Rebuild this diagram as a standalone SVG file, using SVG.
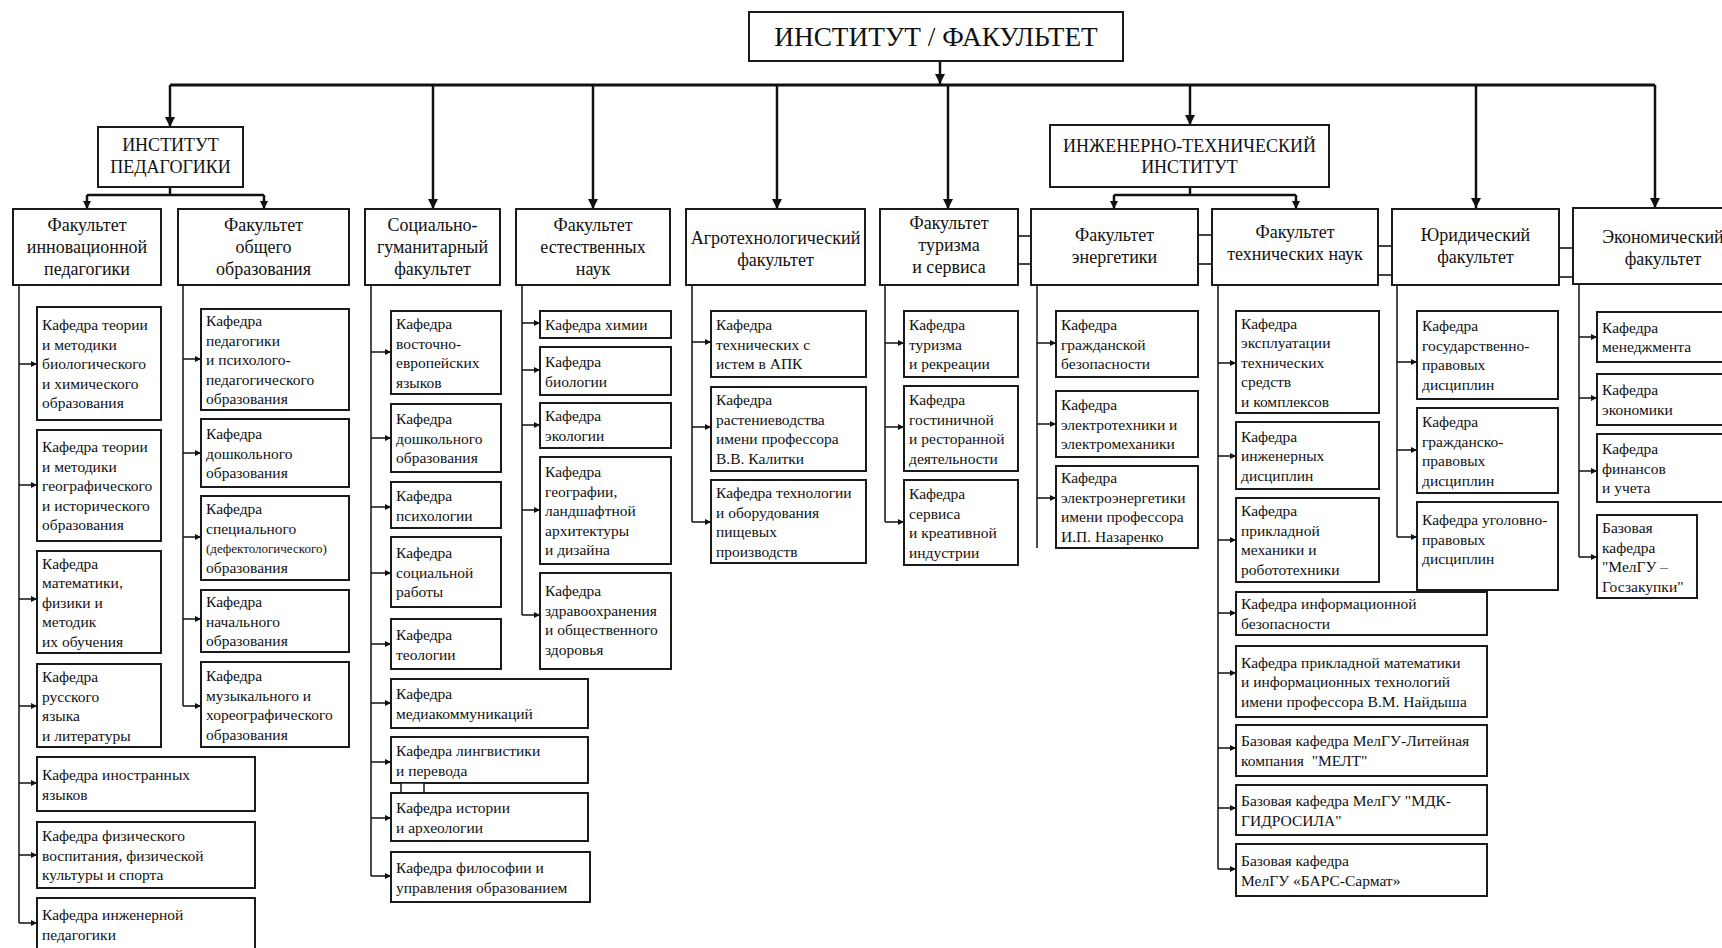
<svg xmlns="http://www.w3.org/2000/svg" width="1722" height="948" viewBox="0 0 1722 948">
<style>
.bg{fill:#fff}
.box{fill:#fff;stroke:#1a1a1a;stroke-width:2}
.t{font-family:"Liberation Serif","Times New Roman",serif;fill:#111}
.k{font-size:15.5px}
.s{font-size:13px}
.f{font-size:18px;text-anchor:middle}
.top{font-size:27.3px;text-anchor:middle}
.bus{stroke:#111;stroke-width:3;fill:none}
.drop{stroke:#111;stroke-width:2.5;fill:none}
.ln{stroke:#111;stroke-width:1.5;fill:none}
.lnk{stroke:#444;stroke-width:2;fill:none}
</style>
<defs>
<marker id="big" viewBox="0 0 10 10" refX="10" refY="5" markerWidth="10" markerHeight="10" markerUnits="userSpaceOnUse" orient="auto"><path d="M0,0 L10,5 L0,10 z" fill="#111"/></marker>
<marker id="mid" viewBox="0 0 10 10" refX="10" refY="5" markerWidth="8" markerHeight="8" markerUnits="userSpaceOnUse" orient="auto"><path d="M0,0 L10,5 L0,10 z" fill="#111"/></marker>
<marker id="sm" viewBox="0 0 10 10" refX="10" refY="5" markerWidth="6" markerHeight="6" markerUnits="userSpaceOnUse" orient="auto"><path d="M0,0 L10,5 L0,10 z" fill="#111"/></marker>
</defs>
<rect class="bg" x="0" y="0" width="1722" height="948"/>

<g id="connectors">
<line class="drop" x1="940" y1="61" x2="940" y2="84" marker-end="url(#big)"/>
<line class="bus" x1="170" y1="85" x2="1655" y2="85"/>
<line class="drop" x1="170" y1="85" x2="170" y2="127" marker-end="url(#big)"/>
<line class="drop" x1="433" y1="85" x2="433" y2="209" marker-end="url(#big)"/>
<line class="drop" x1="593" y1="85" x2="593" y2="209" marker-end="url(#big)"/>
<line class="drop" x1="777" y1="85" x2="777" y2="209" marker-end="url(#big)"/>
<line class="drop" x1="948" y1="85" x2="948" y2="209" marker-end="url(#big)"/>
<line class="drop" x1="1190" y1="85" x2="1190" y2="125" marker-end="url(#big)"/>
<line class="drop" x1="1476" y1="85" x2="1476" y2="208" marker-end="url(#big)"/>
<line class="drop" x1="1655" y1="85" x2="1655" y2="208" marker-end="url(#big)"/>
<path class="drop" d="M170,187 V195 M87,195 H264"/>
<line class="drop" x1="87" y1="195" x2="87" y2="209" marker-end="url(#mid)"/>
<line class="drop" x1="264" y1="195" x2="264" y2="209" marker-end="url(#mid)"/>
<path class="drop" d="M1190,187 V195 M1114,195 H1296"/>
<line class="drop" x1="1114" y1="195" x2="1114" y2="209" marker-end="url(#mid)"/>
<line class="drop" x1="1296" y1="195" x2="1296" y2="209" marker-end="url(#mid)"/>
<path class="lnk" d="M1018,236 H1031 M1018,264 H1031 M1198,235 H1212 M1198,264 H1212 M1378,246 H1392 M1378,275 H1392 M1559,248 H1573 M1559,277 H1573"/>
<path class="ln" d="M19,285 V923 M183,285 V706 M371,285 V876 M522,285 V615 M692,285 V522 M885,285 V522 M1037,285 V548 M1218,285 V869 M1397,285 V537 M1579,285 V557"/>
<g marker-end="url(#sm)" class="ln">
<line x1="19" y1="364" x2="37" y2="364"/><line x1="19" y1="485" x2="37" y2="485"/><line x1="19" y1="599" x2="37" y2="599"/><line x1="19" y1="706" x2="37" y2="706"/><line x1="19" y1="783" x2="37" y2="783"/><line x1="19" y1="855" x2="37" y2="855"/><line x1="19" y1="923" x2="37" y2="923"/>
<line x1="183" y1="359" x2="201" y2="359"/><line x1="183" y1="453" x2="201" y2="453"/><line x1="183" y1="537" x2="201" y2="537"/><line x1="183" y1="619" x2="201" y2="619"/><line x1="183" y1="706" x2="201" y2="706"/>
<line x1="371" y1="352" x2="391" y2="352"/><line x1="371" y1="438" x2="391" y2="438"/><line x1="371" y1="507" x2="391" y2="507"/><line x1="371" y1="573" x2="391" y2="573"/><line x1="371" y1="644" x2="391" y2="644"/><line x1="371" y1="703" x2="391" y2="703"/><line x1="371" y1="762" x2="391" y2="762"/><line x1="371" y1="818" x2="391" y2="818"/><line x1="371" y1="876" x2="391" y2="876"/>
<line x1="522" y1="323" x2="540" y2="323"/><line x1="522" y1="370" x2="540" y2="370"/><line x1="522" y1="425" x2="540" y2="425"/><line x1="522" y1="510" x2="540" y2="510"/><line x1="522" y1="615" x2="540" y2="615"/>
<line x1="692" y1="342" x2="711" y2="342"/><line x1="692" y1="427" x2="711" y2="427"/><line x1="692" y1="522" x2="711" y2="522"/>
<line x1="885" y1="343" x2="904" y2="343"/><line x1="885" y1="427" x2="904" y2="427"/><line x1="885" y1="522" x2="904" y2="522"/>
<line x1="1037" y1="343" x2="1056" y2="343"/><line x1="1037" y1="424" x2="1056" y2="424"/><line x1="1037" y1="498" x2="1056" y2="498"/>
<line x1="1218" y1="363" x2="1236" y2="363"/><line x1="1218" y1="456" x2="1236" y2="456"/><line x1="1218" y1="540" x2="1236" y2="540"/><line x1="1218" y1="613" x2="1236" y2="613"/><line x1="1218" y1="673" x2="1236" y2="673"/><line x1="1218" y1="748" x2="1236" y2="748"/><line x1="1218" y1="808" x2="1236" y2="808"/><line x1="1218" y1="869" x2="1236" y2="869"/>
<line x1="1397" y1="362" x2="1417" y2="362"/><line x1="1397" y1="450" x2="1417" y2="450"/><line x1="1397" y1="537" x2="1417" y2="537"/>
<line x1="1579" y1="337" x2="1597" y2="337"/><line x1="1579" y1="398" x2="1597" y2="398"/><line x1="1579" y1="471" x2="1597" y2="471"/><line x1="1579" y1="557" x2="1597" y2="557"/>
</g>
</g>

<g id="root"><rect class="box" x="749" y="12" width="374" height="49"/><text class="t top" x="936" y="46">ИНСТИТУТ / ФАКУЛЬТЕТ</text></g>
<g id="inst-ped"><rect class="box" x="98" y="127" width="145" height="60"/><text class="t f" x="170.5" y="151">ИНСТИТУТ<tspan x="170.5" dy="22">ПЕДАГОГИКИ</tspan></text></g>
<g id="inst-eng"><rect class="box" x="1050" y="125" width="279" height="62"/><text class="t f" x="1189.5" y="152">ИНЖЕНЕРНО-ТЕХНИЧЕСКИЙ<tspan x="1189.5" dy="21">ИНСТИТУТ</tspan></text></g>

<g id="fac-innov"><rect class="box" x="13" y="209" width="148" height="76"/><text class="t f" x="87" y="231">Факультет<tspan x="87" dy="22">инновационной</tspan><tspan x="87" dy="22">педагогики</tspan></text></g>
<g id="fac-general"><rect class="box" x="178" y="209" width="171" height="76"/><text class="t f" x="263.5" y="231">Факультет<tspan x="263.5" dy="22">общего</tspan><tspan x="263.5" dy="22">образования</tspan></text></g>
<g id="fac-social"><rect class="box" x="365" y="209" width="135" height="76"/><text class="t f" x="432.5" y="231">Социально-<tspan x="432.5" dy="22">гуманитарный</tspan><tspan x="432.5" dy="22">факультет</tspan></text></g>
<g id="fac-natural"><rect class="box" x="516" y="209" width="154" height="76"/><text class="t f" x="593" y="231">Факультет<tspan x="593" dy="22">естественных</tspan><tspan x="593" dy="22">наук</tspan></text></g>
<g id="fac-agro"><rect class="box" x="686" y="209" width="179" height="76"/><text class="t f" x="775.5" y="244">Агротехнологический<tspan x="775.5" dy="22">факультет</tspan></text></g>
<g id="fac-tourism"><rect class="box" x="880" y="209" width="138" height="76"/><text class="t f" x="949" y="229">Факультет<tspan x="949" dy="22">туризма</tspan><tspan x="949" dy="22">и сервиса</tspan></text></g>
<g id="fac-energy"><rect class="box" x="1031" y="209" width="167" height="76"/><text class="t f" x="1114.5" y="241">Факультет<tspan x="1114.5" dy="22">энергетики</tspan></text></g>
<g id="fac-tech"><rect class="box" x="1212" y="209" width="166" height="76"/><text class="t f" x="1295" y="238">Факультет<tspan x="1295" dy="22">технических наук</tspan></text></g>
<g id="fac-law"><rect class="box" x="1392" y="209" width="167" height="76"/><text class="t f" x="1475.5" y="241">Юридический<tspan x="1475.5" dy="22">факультет</tspan></text></g>
<g id="fac-econ"><rect class="box" x="1573" y="208" width="170" height="76"/><text class="t f" x="1663" y="243">Экономический<tspan x="1663" dy="22">факультет</tspan></text></g>

<g id="a1"><rect class="box" x="37" y="307" width="124" height="113"/><text class="t k" x="42" y="330">Кафедра теории<tspan x="42" dy="19.5">и методики</tspan><tspan x="42" dy="19.5">биологического</tspan><tspan x="42" dy="19.5">и химического</tspan><tspan x="42" dy="19.5">образования</tspan></text></g>
<g id="a2"><rect class="box" x="37" y="430" width="124" height="111"/><text class="t k" x="42" y="452">Кафедра теории<tspan x="42" dy="19.5">и методики</tspan><tspan x="42" dy="19.5">географического</tspan><tspan x="42" dy="19.5">и исторического</tspan><tspan x="42" dy="19.5">образования</tspan></text></g>
<g id="a3"><rect class="box" x="37" y="551" width="124" height="102"/><text class="t k" x="42" y="568.5">Кафедра<tspan x="42" dy="19.5">математики,</tspan><tspan x="42" dy="19.5">физики и</tspan><tspan x="42" dy="19.5">методик</tspan><tspan x="42" dy="19.5">их обучения</tspan></text></g>
<g id="a4"><rect class="box" x="37" y="664" width="124" height="83"/><text class="t k" x="42" y="682">Кафедра<tspan x="42" dy="19.5">русского</tspan><tspan x="42" dy="19.5">языка</tspan><tspan x="42" dy="19.5">и литературы</tspan></text></g>
<g id="a5"><rect class="box" x="37" y="757" width="218" height="54"/><text class="t k" x="42" y="780">Кафедра иностранных<tspan x="42" dy="19.5">языков</tspan></text></g>
<g id="a6"><rect class="box" x="37" y="822" width="218" height="66"/><text class="t k" x="42" y="841">Кафедра физического<tspan x="42" dy="19.5">воспитания, физической</tspan><tspan x="42" dy="19.5">культуры и спорта</tspan></text></g>
<g id="a7"><rect class="box" x="37" y="898" width="218" height="62"/><text class="t k" x="42" y="920">Кафедра инженерной<tspan x="42" dy="19.5">педагогики</tspan></text></g>

<g id="b1"><rect class="box" x="201" y="309" width="148" height="101"/><text class="t k" x="206" y="326">Кафедра<tspan x="206" dy="19.5">педагогики</tspan><tspan x="206" dy="19.5">и психолого-</tspan><tspan x="206" dy="19.5">педагогического</tspan><tspan x="206" dy="19.5">образования</tspan></text></g>
<g id="b2"><rect class="box" x="201" y="419" width="148" height="68"/><text class="t k" x="206" y="439">Кафедра<tspan x="206" dy="19.5">дошкольного</tspan><tspan x="206" dy="19.5">образования</tspan></text></g>
<g id="b3"><rect class="box" x="201" y="496" width="148" height="84"/><text class="t k" x="206" y="514">Кафедра<tspan x="206" dy="19.5">специального</tspan><tspan x="206" dy="19.5" class="s">(дефектологического)</tspan><tspan x="206" dy="19.5">образования</tspan></text></g>
<g id="b4"><rect class="box" x="201" y="590" width="148" height="62"/><text class="t k" x="206" y="607">Кафедра<tspan x="206" dy="19.5">начального</tspan><tspan x="206" dy="19.5">образования</tspan></text></g>
<g id="b5"><rect class="box" x="201" y="662" width="148" height="85"/><text class="t k" x="206" y="681">Кафедра<tspan x="206" dy="19.5">музыкального и</tspan><tspan x="206" dy="19.5">хореографического</tspan><tspan x="206" dy="19.5">образования</tspan></text></g>

<g id="c1"><rect class="box" x="391" y="311" width="110" height="83"/><text class="t k" x="396" y="329">Кафедра<tspan x="396" dy="19.5">восточно-</tspan><tspan x="396" dy="19.5">европейских</tspan><tspan x="396" dy="19.5">языков</tspan></text></g>
<g id="c2"><rect class="box" x="391" y="404" width="110" height="68"/><text class="t k" x="396" y="424">Кафедра<tspan x="396" dy="19.5">дошкольного</tspan><tspan x="396" dy="19.5">образования</tspan></text></g>
<g id="c3"><rect class="box" x="391" y="482" width="110" height="46"/><text class="t k" x="396" y="501">Кафедра<tspan x="396" dy="19.5">психологии</tspan></text></g>
<g id="c4"><rect class="box" x="391" y="537" width="110" height="70"/><text class="t k" x="396" y="558">Кафедра<tspan x="396" dy="19.5">социальной</tspan><tspan x="396" dy="19.5">работы</tspan></text></g>
<g id="c5"><rect class="box" x="391" y="619" width="110" height="50"/><text class="t k" x="396" y="640">Кафедра<tspan x="396" dy="19.5">теологии</tspan></text></g>
<g id="c6"><rect class="box" x="391" y="679" width="197" height="49"/><text class="t k" x="396" y="699">Кафедра<tspan x="396" dy="19.5">медиакоммуникаций</tspan></text></g>
<g id="c7"><rect class="box" x="391" y="737" width="197" height="46"/><text class="t k" x="396" y="756">Кафедра лингвистики<tspan x="396" dy="19.5">и перевода</tspan></text></g>
<g id="c-small"><rect class="box" x="401" y="783" width="23" height="10" style="stroke-width:1.5"/></g>
<g id="c8"><rect class="box" x="391" y="793" width="197" height="48"/><text class="t k" x="396" y="813">Кафедра истории<tspan x="396" dy="19.5">и археологии</tspan></text></g>
<g id="c9"><rect class="box" x="391" y="852" width="199" height="50"/><text class="t k" x="396" y="873">Кафедра философии и<tspan x="396" dy="19.5">управления образованием</tspan></text></g>

<g id="d1"><rect class="box" x="540" y="311" width="131" height="27"/><text class="t k" x="545" y="330">Кафедра химии</text></g>
<g id="d2"><rect class="box" x="540" y="347" width="131" height="48"/><text class="t k" x="545" y="367">Кафедра<tspan x="545" dy="19.5">биологии</tspan></text></g>
<g id="d3"><rect class="box" x="540" y="403" width="131" height="45"/><text class="t k" x="545" y="421">Кафедра<tspan x="545" dy="19.5">экологии</tspan></text></g>
<g id="d4"><rect class="box" x="540" y="457" width="131" height="107"/><text class="t k" x="545" y="477">Кафедра<tspan x="545" dy="19.5">географии,</tspan><tspan x="545" dy="19.5">ландшафтной</tspan><tspan x="545" dy="19.5">архитектуры</tspan><tspan x="545" dy="19.5">и дизайна</tspan></text></g>
<g id="d5"><rect class="box" x="540" y="573" width="131" height="96"/><text class="t k" x="545" y="596">Кафедра<tspan x="545" dy="19.5">здравоохранения</tspan><tspan x="545" dy="19.5">и общественного</tspan><tspan x="545" dy="19.5">здоровья</tspan></text></g>

<g id="e1"><rect class="box" x="711" y="311" width="155" height="66"/><text class="t k" x="716" y="330">Кафедра<tspan x="716" dy="19.5">технических с</tspan><tspan x="716" dy="19.5">истем в АПК</tspan></text></g>
<g id="e2"><rect class="box" x="711" y="387" width="155" height="84"/><text class="t k" x="716" y="405">Кафедра<tspan x="716" dy="19.5">растениеводства</tspan><tspan x="716" dy="19.5">имени профессора</tspan><tspan x="716" dy="19.5">В.В. Калитки</tspan></text></g>
<g id="e3"><rect class="box" x="711" y="480" width="155" height="83"/><text class="t k" x="716" y="498">Кафедра технологии<tspan x="716" dy="19.5">и оборудования</tspan><tspan x="716" dy="19.5">пищевых</tspan><tspan x="716" dy="19.5">производств</tspan></text></g>

<g id="f1"><rect class="box" x="904" y="311" width="114" height="66"/><text class="t k" x="909" y="330">Кафедра<tspan x="909" dy="19.5">туризма</tspan><tspan x="909" dy="19.5">и рекреации</tspan></text></g>
<g id="f2"><rect class="box" x="904" y="386" width="114" height="85"/><text class="t k" x="909" y="405">Кафедра<tspan x="909" dy="19.5">гостиничной</tspan><tspan x="909" dy="19.5">и ресторанной</tspan><tspan x="909" dy="19.5">деятельности</tspan></text></g>
<g id="f3"><rect class="box" x="904" y="480" width="114" height="85"/><text class="t k" x="909" y="499">Кафедра<tspan x="909" dy="19.5">сервиса</tspan><tspan x="909" dy="19.5">и креативной</tspan><tspan x="909" dy="19.5">индустрии</tspan></text></g>

<g id="g1"><rect class="box" x="1056" y="311" width="142" height="66"/><text class="t k" x="1061" y="330">Кафедра<tspan x="1061" dy="19.5">гражданской</tspan><tspan x="1061" dy="19.5">безопасности</tspan></text></g>
<g id="g2"><rect class="box" x="1056" y="391" width="142" height="66"/><text class="t k" x="1061" y="410">Кафедра<tspan x="1061" dy="19.5">электротехники и</tspan><tspan x="1061" dy="19.5">электромеханики</tspan></text></g>
<g id="g3"><rect class="box" x="1056" y="466" width="142" height="82"/><text class="t k" x="1061" y="483">Кафедра<tspan x="1061" dy="19.5">электроэнергетики</tspan><tspan x="1061" dy="19.5">имени профессора</tspan><tspan x="1061" dy="19.5">И.П. Назаренко</tspan></text></g>

<g id="h1"><rect class="box" x="1236" y="311" width="143" height="102"/><text class="t k" x="1241" y="328.5">Кафедра<tspan x="1241" dy="19.5">эксплуатации</tspan><tspan x="1241" dy="19.5">технических</tspan><tspan x="1241" dy="19.5">средств</tspan><tspan x="1241" dy="19.5">и комплексов</tspan></text></g>
<g id="h2"><rect class="box" x="1236" y="422" width="143" height="67"/><text class="t k" x="1241" y="441.5">Кафедра<tspan x="1241" dy="19.5">инженерных</tspan><tspan x="1241" dy="19.5">дисциплин</tspan></text></g>
<g id="h3"><rect class="box" x="1236" y="498" width="143" height="84"/><text class="t k" x="1241" y="516">Кафедра<tspan x="1241" dy="19.5">прикладной</tspan><tspan x="1241" dy="19.5">механики и</tspan><tspan x="1241" dy="19.5">робототехники</tspan></text></g>
<g id="h4"><rect class="box" x="1236" y="592" width="251" height="43"/><text class="t k" x="1241" y="609">Кафедра информационной<tspan x="1241" dy="19.5">безопасности</tspan></text></g>
<g id="h5"><rect class="box" x="1236" y="646" width="251" height="71"/><text class="t k" x="1241" y="667.5">Кафедра прикладной математики<tspan x="1241" dy="19.5">и информационных технологий</tspan><tspan x="1241" dy="19.5">имени профессора В.М. Найдыша</tspan></text></g>
<g id="h6"><rect class="box" x="1236" y="725" width="251" height="51"/><text class="t k" x="1241" y="746" xml:space="preserve">Базовая кафедра МелГУ-Литейная<tspan x="1241" dy="19.5">компания  "МЕЛТ"</tspan></text></g>
<g id="h7"><rect class="box" x="1236" y="785" width="251" height="50"/><text class="t k" x="1241" y="806">Базовая кафедра МелГУ "МДК-<tspan x="1241" dy="19.5">ГИДРОСИЛА"</tspan></text></g>
<g id="h8"><rect class="box" x="1236" y="844" width="251" height="52"/><text class="t k" x="1241" y="866">Базовая кафедра<tspan x="1241" dy="19.5">МелГУ «БАРС-Сармат»</tspan></text></g>

<g id="i1"><rect class="box" x="1417" y="311" width="141" height="88"/><text class="t k" x="1422" y="331">Кафедра<tspan x="1422" dy="19.5">государственно-</tspan><tspan x="1422" dy="19.5">правовых</tspan><tspan x="1422" dy="19.5">дисциплин</tspan></text></g>
<g id="i2"><rect class="box" x="1417" y="408" width="141" height="85"/><text class="t k" x="1422" y="427">Кафедра<tspan x="1422" dy="19.5">гражданско-</tspan><tspan x="1422" dy="19.5">правовых</tspan><tspan x="1422" dy="19.5">дисциплин</tspan></text></g>
<g id="i3"><rect class="box" x="1417" y="502" width="141" height="88"/><text class="t k" x="1422" y="525">Кафедра уголовно-<tspan x="1422" dy="19.5">правовых</tspan><tspan x="1422" dy="19.5">дисциплин</tspan></text></g>

<g id="j1"><rect class="box" x="1597" y="312" width="140" height="50"/><text class="t k" x="1602" y="332.5">Кафедра<tspan x="1602" dy="19.5">менеджмента</tspan></text></g>
<g id="j2"><rect class="box" x="1597" y="374" width="140" height="51"/><text class="t k" x="1602" y="395">Кафедра<tspan x="1602" dy="19.5">экономики</tspan></text></g>
<g id="j3"><rect class="box" x="1597" y="434" width="140" height="68"/><text class="t k" x="1602" y="454">Кафедра<tspan x="1602" dy="19.5">финансов</tspan><tspan x="1602" dy="19.5">и учета</tspan></text></g>
<g id="j4"><rect class="box" x="1597" y="515" width="100" height="83"/><text class="t k" x="1602" y="533">Базовая<tspan x="1602" dy="19.5">кафедра</tspan><tspan x="1602" dy="19.5">"МелГУ –</tspan><tspan x="1602" dy="19.5">Госзакупки"</tspan></text></g>
</svg>
